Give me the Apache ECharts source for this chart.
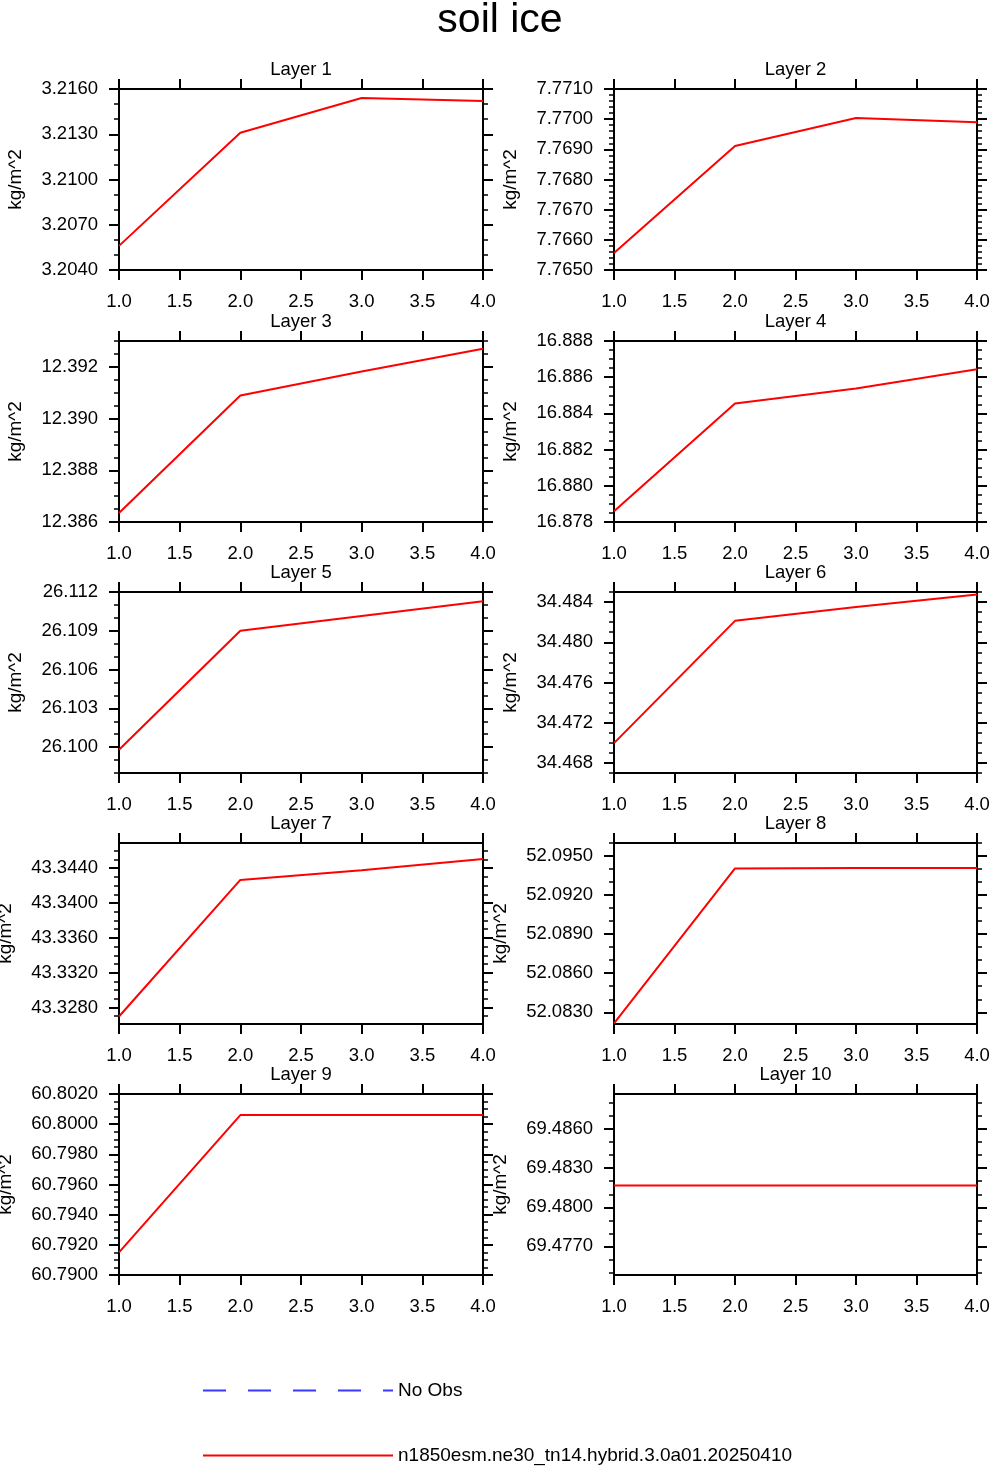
<!DOCTYPE html>
<html>
<head>
<meta charset="utf-8">
<title>soil ice</title>
<script src="https://cdn.jsdelivr.net/npm/echarts@6/dist/echarts.min.js"></script>
<style>
  html, body { margin: 0; padding: 0; background: #fff; }
  #chart { width: 990px; height: 1466px; }
</style>
</head>
<body>
<div id="chart"></div>
<script>
// values
const layerTitles = ['Layer 1', 'Layer 2', 'Layer 3', 'Layer 4', 'Layer 5',
  'Layer 6', 'Layer 7', 'Layer 8', 'Layer 9', 'Layer 10'];
const xValues = [1, 2, 3, 4];

const layer1 = [3.2056, 3.2131, 3.2154, 3.2152];
const layer2 = [7.76556, 7.76911, 7.77004, 7.76990];
const layer3 = [12.38635, 12.39089, 12.39182, 12.39270];
const layer4 = [16.87859, 16.88455, 16.88538, 16.88644];
const layer5 = [26.09980, 26.10900, 26.11014, 26.11129];
const layer6 = [34.46997, 34.48213, 34.48351, 34.48476];
const layer7 = [43.32696, 43.34266, 43.34377, 43.34507];
const layer8 = [52.08215, 52.09405, 52.09408, 52.09408];
const layer9 = [60.79150, 60.80060, 60.80060, 60.80060];
const layer10 = [69.48168, 69.48168, 69.48168, 69.48168];
const layers = [layer1, layer2, layer3, layer4, layer5, layer6, layer7, layer8, layer9, layer10];

// y ranges and tick labels per panel
const yMin = [3.2040, 7.7650, 12.386, 16.878, 26.098, 34.467, 43.3261, 52.0821, 60.790, 69.4748];
const yMax = [3.2160, 7.7710, 12.393, 16.888, 26.112, 34.485, 43.3469, 52.0960, 60.802, 69.4887];
const yTicks = [
  [3.204, 3.207, 3.210, 3.213, 3.216],
  [7.765, 7.766, 7.767, 7.768, 7.769, 7.770, 7.771],
  [12.386, 12.388, 12.390, 12.392],
  [16.878, 16.880, 16.882, 16.884, 16.886, 16.888],
  [26.100, 26.103, 26.106, 26.109, 26.112],
  [34.468, 34.472, 34.476, 34.480, 34.484],
  [43.328, 43.332, 43.336, 43.340, 43.344],
  [52.083, 52.086, 52.089, 52.092, 52.095],
  [60.790, 60.792, 60.794, 60.796, 60.798, 60.800, 60.802],
  [69.477, 69.480, 69.483, 69.486]
];
const yMinorStep = [0.001, 0.0002, 0.0005, 0.0005, 0.001, 0.001, 0.001, 0.001, 0.0005, 0.001];
const yDecimals = [4, 4, 3, 3, 3, 3, 4, 4, 4, 4];

const modelName = 'n1850esm.ne30_tn14.hybrid.3.0a01.20250410';
const obsName = 'No Obs';

const FONT = '"Liberation Sans", Arial, Helvetica, sans-serif';
const colLeft = [119, 614];
const colWidth = [364, 363];
const rowTop = [89, 341, 592, 843, 1094];
const plotHeight = 181;

function minorTicks(i) {
  const step = yMinorStep[i];
  const out = [];
  const start = Math.ceil(yMin[i] / step - 1e-6);
  const end = Math.floor(yMax[i] / step + 1e-6);
  for (let k = start; k <= end; k++) {
    const v = +(k * step).toFixed(6);
    if (!yTicks[i].some(t => Math.abs(t - v) < step / 10)) out.push(v);
  }
  return out;
}

const chart = echarts.init(document.getElementById('chart'), null, { renderer: 'canvas' });

const grids = [];
const xAxes = [];
const yAxes = [];
const series = [];
const titles = [{
  text: 'soil ice',
  left: 500,
  top: 0,
  textAlign: 'center',
  padding: 0,
  textStyle: { fontFamily: FONT, fontSize: 41, fontWeight: 'normal', color: '#000' }
}];

const lineBlack = { show: true, lineStyle: { color: '#000', width: 2 } };

layers.forEach((vals, i) => {
  const col = i % 2;
  const row = Math.floor(i / 2);
  grids.push({
    left: colLeft[col],
    top: rowTop[row],
    width: colWidth[col],
    height: plotHeight,
    containLabel: false,
    outerBoundsMode: 'none'
  });
  titles.push({
    text: layerTitles[i],
    left: colLeft[col] + colWidth[col] / 2,
    top: rowTop[row] - 29,
    textAlign: 'center',
    padding: 0,
    textStyle: { fontFamily: FONT, fontSize: 18.5, fontWeight: 'normal', color: '#000' }
  });

  const xBase = {
    type: 'value',
    gridIndex: i,
    min: 1,
    max: 4,
    interval: 0.5,
    axisLine: lineBlack,
    splitLine: { show: false },
    axisTick: { show: true, inside: false, length: 10, lineStyle: { color: '#000', width: 2 } }
  };
  xAxes.push(Object.assign({}, xBase, {
    position: 'bottom',
    axisLabel: {
      show: true, margin: 22, fontFamily: FONT, fontSize: 18.5, color: '#000',
      showMinLabel: true, showMaxLabel: true,
      formatter: v => v.toFixed(1)
    }
  }));
  xAxes.push(Object.assign({}, xBase, { position: 'top', axisLabel: { show: false } }));

  const majors = yTicks[i];
  const minors = minorTicks(i);
  const yBase = {
    type: 'value',
    gridIndex: i,
    min: yMin[i],
    max: yMax[i],
    splitLine: { show: false }
  };
  const leftIdx = yAxes.length;
  yAxes.push(Object.assign({}, yBase, {
    position: 'left',
    name: 'kg/m^2',
    nameLocation: 'middle',
    nameRotate: 90,
    nameGap: yDecimals[i] === 4 && yMin[i] > 10 ? 104 : 94,
    nameTextStyle: { fontFamily: FONT, fontSize: 19, color: '#000' },
    axisLine: lineBlack,
    axisTick: { show: true, inside: false, length: 10, customValues: majors,
      lineStyle: { color: '#000', width: 2 } },
    axisLabel: {
      show: true, margin: 21, fontFamily: FONT, fontSize: 18.5, color: '#000',
      customValues: majors,
      formatter: v => Number(v).toFixed(yDecimals[i])
    }
  }));
  yAxes.push(Object.assign({}, yBase, {
    position: 'left',
    axisLine: { show: false },
    axisTick: { show: true, inside: false, length: 5, customValues: minors,
      lineStyle: { color: '#000', width: 1.5 } },
    axisLabel: { show: false }
  }));
  yAxes.push(Object.assign({}, yBase, {
    position: 'right',
    axisLine: lineBlack,
    axisTick: { show: true, inside: false, length: 10, customValues: majors,
      lineStyle: { color: '#000', width: 2 } },
    axisLabel: { show: false }
  }));
  yAxes.push(Object.assign({}, yBase, {
    position: 'right',
    axisLine: { show: false },
    axisTick: { show: true, inside: false, length: 5, customValues: minors,
      lineStyle: { color: '#000', width: 1.5 } },
    axisLabel: { show: false }
  }));

  series.push({
    name: modelName,
    type: 'line',
    xAxisIndex: i * 2,
    yAxisIndex: leftIdx,
    data: xValues.map((x, k) => [x, vals[k]]),
    symbol: 'none',
    lineStyle: { color: '#ff0000', width: 2 },
    itemStyle: { color: '#ff0000' },
    z: 3
  });
  if (i === 0) {
    series.push({
      name: obsName,
      type: 'line',
      xAxisIndex: 0,
      yAxisIndex: leftIdx,
      data: [],
      symbol: 'none',
      lineStyle: { color: '#3838ff', width: 2, type: [23, 22] },
      itemStyle: { color: '#3838ff' }
    });
  }
});

const legendBase = {
  orient: 'vertical',
  left: 202,
  itemWidth: 190,
  itemHeight: 14,
  itemGap: 6,
  padding: 0,
  itemStyle: { opacity: 0 },
  textStyle: { fontFamily: FONT, fontSize: 19, color: '#000', padding: 0 }
};

chart.setOption({
  animation: false,
  backgroundColor: '#fff',
  title: titles,
  grid: grids,
  xAxis: xAxes,
  yAxis: yAxes,
  legend: [
    Object.assign({}, legendBase, { data: [obsName], top: 1381 }),
    Object.assign({}, legendBase, { data: [modelName], top: 1446 })
  ],
  series: series
});
</script>
</body>
</html>
